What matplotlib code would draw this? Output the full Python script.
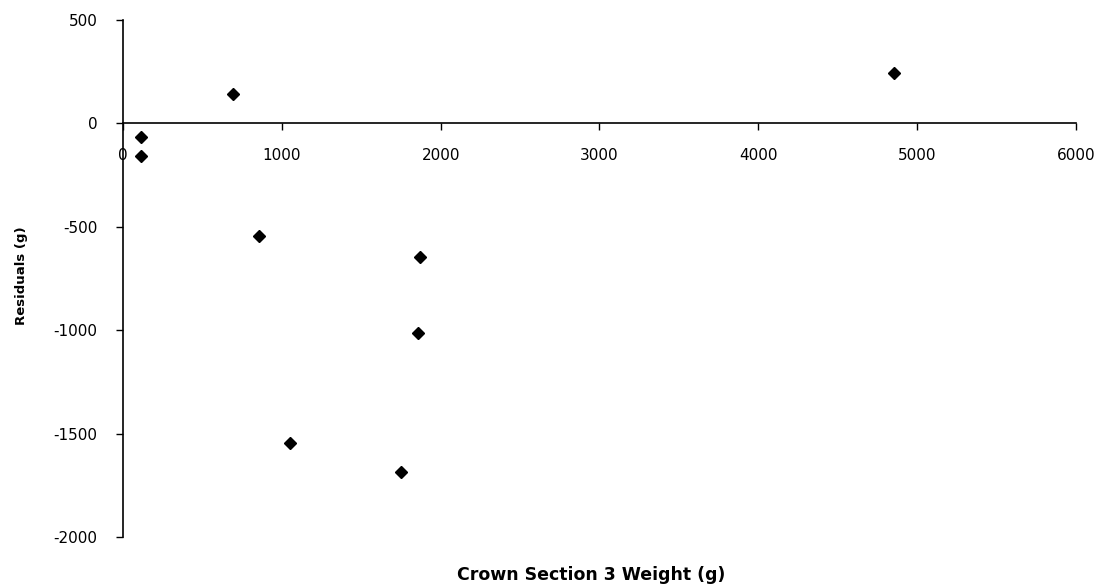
import matplotlib.pyplot as plt

plt.rcParams['font.family'] = ['DejaVu Sans']
plt.rcParams['axes.unicode_minus'] = False

# crown section 3 weight (g) vs residuals (g)
weight = [113, 113, 693, 857, 1052, 1752, 1859, 1871, 4852]
residuals = [-68, -160, 140, -546, -1547, -1688, -1015, -648, 242]

xticks = [0, 1000, 2000, 3000, 4000, 5000, 6000]
yticks = [-2000, -1500, -1000, -500, 0, 500]

fig = plt.figure(figsize=(11, 5.86), dpi=100)
ax = fig.add_axes([0.112, 0.0836, 0.866, 0.8824])

ax.plot(weight, residuals, linestyle='none', marker='D', color='black', markersize=6)

ax.set_xlim(0, 6000)
ax.set_ylim(-2000, 500)
ax.set_xticks(xticks)
ax.set_yticks(yticks)

ax.spines['top'].set_visible(False)
ax.spines['right'].set_visible(False)
ax.spines['bottom'].set_position(('data', 0))
ax.spines['left'].set_linewidth(1.2)
ax.spines['bottom'].set_linewidth(1.2)

ax.tick_params(axis='y', direction='out', length=5, width=1, labelsize=11, pad=13.5)
ax.tick_params(axis='x', direction='out', length=5, width=1, labelsize=11, pad=13)

ax.set_ylabel('Residuals (g)', fontsize=9.5, fontweight='bold')
ax.yaxis.set_label_coords(-0.1, 0.505)
fig.text(0.537, 0.004, 'Crown Section 3 Weight (g)', ha='center', va='bottom',
         fontsize=12.5, fontweight='bold')

fig.savefig('out.png', dpi=100)
